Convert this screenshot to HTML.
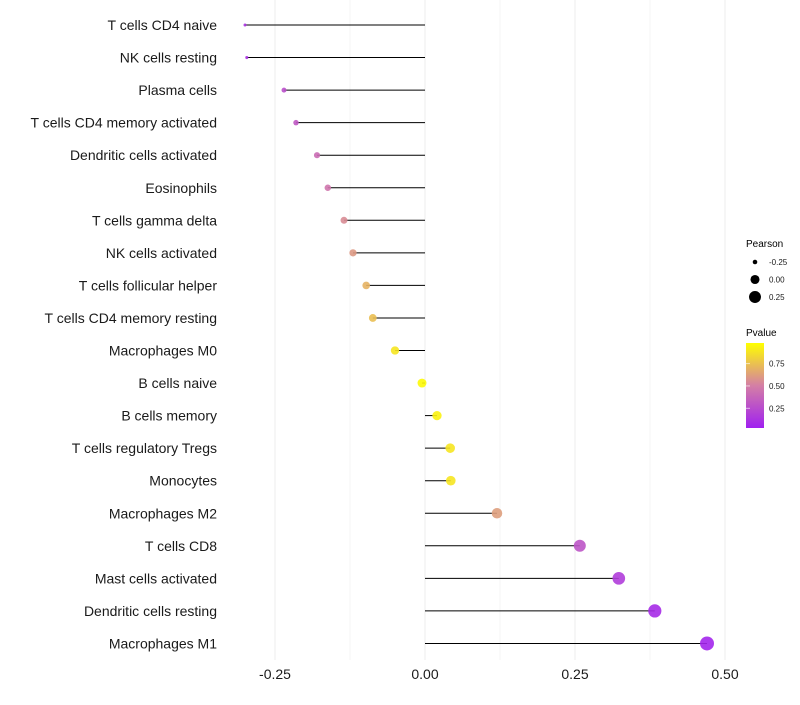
<!DOCTYPE html>
<html><head><meta charset="utf-8"><style>
body{margin:0;background:#fff;font-family:"Liberation Sans",sans-serif;}
svg text{font-family:"Liberation Sans",sans-serif;}
</style></head><body>
<svg width="800" height="700" xmlns="http://www.w3.org/2000/svg">
<defs><linearGradient id="pg" x1="0" y1="1" x2="0" y2="0">
<stop offset="0" stop-color="#a020f0"/><stop offset="0.5" stop-color="#d47fa5"/><stop offset="1" stop-color="#ffff00"/>
</linearGradient></defs>
<g id="grid"></g>
<g id="marks"></g>
<g id="ylabels"></g>
<g id="xlabels"></g>
<g>
<text x="746" y="247" font-size="10">Pearson</text>
<g id="sizeLegend"></g>
<text x="746" y="336" font-size="10">Pvalue</text>
<rect x="746" y="343" width="18" height="85" fill="url(#pg)"/>
<g id="colorLegend"></g>
</g>
</svg>
<script>
const categories=["T cells CD4 naive","NK cells resting","Plasma cells","T cells CD4 memory activated","Dendritic cells activated","Eosinophils","T cells gamma delta","NK cells activated","T cells follicular helper","T cells CD4 memory resting","Macrophages M0","B cells naive","B cells memory","T cells regulatory  Tregs","Monocytes","Macrophages M2","T cells CD8","Mast cells activated","Dendritic cells resting","Macrophages M1"];
const pearson=[-0.300,-0.297,-0.235,-0.215,-0.180,-0.162,-0.135,-0.120,-0.098,-0.087,-0.050,-0.005,0.020,0.042,0.043,0.120,0.258,0.323,0.383,0.470];
const pvalue=[0.10,0.10,0.25,0.30,0.40,0.45,0.55,0.60,0.70,0.75,0.90,0.98,0.95,0.90,0.90,0.62,0.28,0.15,0.06,0.03];
const xTicks=[-0.25,0,0.25,0.5];
const xTickLabels=["-0.25","0.00","0.25","0.50"];
const sizeLegendVals=[-0.25,0,0.25];
const colorLegendVals=[0.25,0.5,0.75];
const NS="http://www.w3.org/2000/svg";
const xs=v=>425+v*600;
const ys=i=>25+i*32.55;
const rs=v=>Math.sqrt(Math.max(2,20.4+60.6*v));
function lerp(a,b,t){return a+(b-a)*t;}
function col(p){const s=[[0,[160,32,240]],[0.5,[212,127,165]],[1,[255,255,0]]];let i=p<0.5?0:1;const t=(p-s[i][0])/0.5;const c=s[i][1].map((v,k)=>Math.round(lerp(v,s[i+1][1][k],t)));return `rgb(${c})`;}
function mk(tag,attrs,parent){const e=document.createElementNS(NS,tag);for(const k in attrs)e.setAttribute(k,attrs[k]);parent.appendChild(e);return e;}
const grid=document.getElementById('grid');
for(let v=-0.25;v<=0.5001;v+=0.125){const l=mk('line',{x1:xs(v),x2:xs(v),y1:0,y2:660,stroke:'#efefef','stroke-width':Math.abs((v/0.25)%1)<0.01?1.1:0.6},grid);

}
const marks=document.getElementById('marks'),yl=document.getElementById('ylabels'),xl=document.getElementById('xlabels');
categories.forEach((c,i)=>{const y=ys(i);
const ln=mk('line',{x1:xs(0),x2:xs(pearson[i]),y1:y,y2:y,stroke:'#000','stroke-width':1},marks);


const pt=mk('circle',{cx:xs(pearson[i]),cy:y,r:rs(pearson[i]),fill:col(pvalue[i]),'fill-opacity':0.9},marks);


const t=mk('text',{x:217,y:y+5,'text-anchor':'end','font-size':14,fill:'#1a1a1a'},yl);t.textContent=c;

});
xTicks.forEach((v,i)=>{const t=mk('text',{x:xs(v),y:679,'text-anchor':'middle','font-size':14,fill:'#1a1a1a'},xl);t.textContent=xTickLabels[i];

});
const sl=document.getElementById('sizeLegend');
sizeLegendVals.forEach((v,i)=>{const y=262+i*17.5;
const c=mk('circle',{cx:755,cy:y,r:rs(v),fill:'#000'},sl);


const t=mk('text',{x:769,y:y+3,'font-size':8,fill:'#1a1a1a'},sl);t.textContent=v.toFixed(2);

});
const cl=document.getElementById('colorLegend');
colorLegendVals.forEach(v=>{const y=428-(v-0.03)/0.95*85;
const tk=mk('line',{x1:746,x2:750,y1:y,y2:y,stroke:'#fff','stroke-opacity':0.6},cl);


const t=mk('text',{x:769,y:y+3,'font-size':8,fill:'#1a1a1a'},cl);t.textContent=v.toFixed(2);

});
</script>
</body></html>
